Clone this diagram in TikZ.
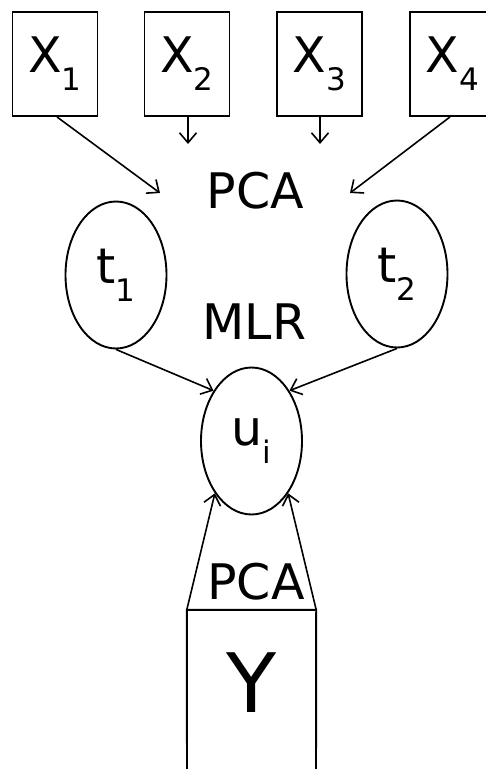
\documentclass[tikz,border=0pt]{standalone}
\usepackage{fontspec}
\setmainfont{DejaVu Sans}
\usetikzlibrary{arrows.meta,shapes.geometric}
% lowered index set in a smaller size
\newcommand\lowidx[1]{\raisebox{-18pt}{\fontsize{31}{31}\selectfont #1}}
\begin{document}
\begin{tikzpicture}[x=1pt,y=-1pt,
  every node/.style={font=\fontsize{49}{50}\selectfont},
  var/.style={draw, line width=1.9pt, minimum width=85pt, minimum height=104pt, inner sep=0pt},
  latent/.style={draw, ellipse, line width=1.9pt, minimum width=101pt, minimum height=147pt, inner sep=0pt},
  tag/.style={inner sep=0pt},
  link/.style={line width=1.6pt, -{Straight Barb[length=10pt,width=17pt]}}]
\useasboundingbox (0,0) rectangle (485,769);

% observed blocks
\node[var] (x1) at (55,64) {X\lowidx{1}};
\node[var] (x2) at (187,64) {X\lowidx{2}};
\node[var] (x3) at (319.5,64) {X\lowidx{3}};
\node[var] (x4) at (452.5,64) {X\lowidx{4}};

% method labels
\node[tag] (pca1) at (255.5,191) {PCA};
\node[tag] (mlr) at (254.5,322) {MLR};
\node[tag] (pca2) at (256,582) {PCA};

% scores
\node[latent] (t1) at (116,275) {t\lowidx{1}};
\node[latent] (t2) at (397,274) {t\lowidx{2}};
\node[latent] (u) at (251.5,441) {u\lowidx{i}};

% response block, open at the bottom
\node[inner sep=0pt, minimum width=129pt, minimum height=145pt, font=\fontsize{82}{82}\selectfont] (ybox) at (251.5,682.5) {Y};
\coordinate (ybl) at (187,790);
\coordinate (ybr) at (316,790);
\draw[line width=1.9pt] (ybl) -- (ybox.north west) -- (ybox.north east) -- (ybr);

% arrow ends
\coordinate (e1) at (160,193);
\coordinate (e2) at (188,144);
\coordinate (e3) at (320,144);
\coordinate (e4) at (350,193);

\draw[link] (x1.south -| 57,0) -- (e1);
\draw[link] (x2.south -| 188,0) -- (e2);
\draw[link] (x3.south -| 320,0) -- (e3);
\draw[link] (x4.south -| 450,0) -- (e4);

\draw[link] (t1.south) -- (u.127);
\draw[link] (t2.south) -- (u.53);
\draw[link] (ybox.north west) -- (u.-125);
\draw[link] (ybox.north east) -- (u.-55);
\end{tikzpicture}
\end{document}
